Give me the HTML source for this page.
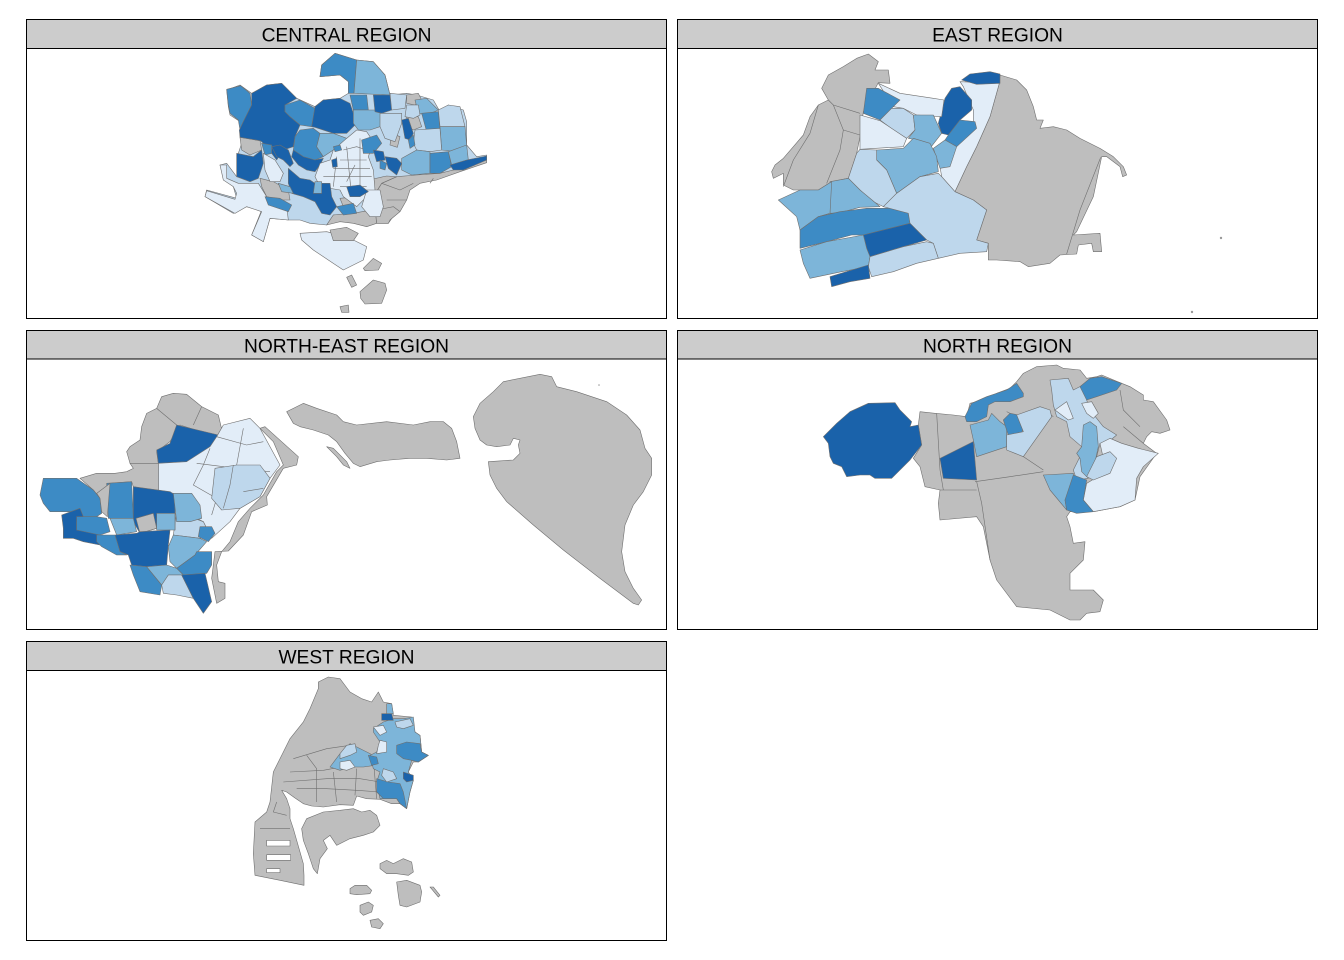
<!DOCTYPE html>
<html><head><meta charset="utf-8"><style>
html,body{margin:0;padding:0;background:#fff;}
svg{display:block;}
polygon,polyline{vector-effect:non-scaling-stroke;stroke-linejoin:round;}
.m polygon{stroke:#6f6f6f;stroke-width:0.6;}
.m polyline{fill:none;stroke:#6f6f6f;stroke-width:0.6;}
.D{fill:#1a62aa}.M{fill:#3d8bc5}.L{fill:#7db5d9}.P{fill:#bed7ec}.W{fill:#e2edf8}.G{fill:#bebebe}
.hd{fill:#cccccc;stroke:#000;stroke-width:1}
.bx{fill:none;stroke:#000;stroke-width:1}
text{font-family:"Liberation Sans",Arial,sans-serif;font-size:19.2px;fill:#000;text-anchor:middle;}
</style></head><body>
<svg width="1344" height="960" viewBox="0 0 1344 960" xmlns="http://www.w3.org/2000/svg">
<rect width="1344" height="960" fill="#fff"/>

<!-- CENTRAL -->
<g class="m" transform="translate(200,50) scale(0.33333)">
<polygon class="P" points="80,120 120,105 155,130 200,105 245,100 290,145 345,170 370,150 420,145 445,130 445,95 420,75 360,80 365,45 405,10 470,30 520,35 555,75 570,135 620,130 650,135 700,150 720,185 745,165 790,180 800,215 800,285 830,320 860,315 860,335 760,360 700,380 640,400 600,470 565,520 530,520 525,480 470,490 400,495 380,525 330,520 300,510 265,510 210,505 190,575 155,555 185,480 140,470 100,490 15,440 20,420 110,445 100,410 75,390 60,345 80,340 110,380 115,310 125,280 120,245 120,215 90,195 85,170"/>
<polygon class="W" points="60,345 80,345 80,385 115,400 175,400 200,440 260,470 265,510 210,505 190,575 155,555 185,485 140,470 105,490 15,440 20,422 105,448 110,430 100,410 70,390"/>
<polygon class="G" points="590,380 650,375 720,370 760,360 860,330 860,338 780,365 710,390 660,400 630,420 620,450 600,485 570,510 565,520 530,520 525,480 505,470 520,440 545,400"/>
<polygon class="G" points="505,390 560,378 590,380 545,400 520,440 500,440"/>
<polygon class="G" points="380,525 400,495 470,488 525,478 530,520 500,530 460,520 420,515"/>
<polyline points="545,400 600,420 640,400"/><polyline points="560,450 620,450"/><polyline points="530,480 580,470 600,485"/><polyline points="700,385 690,400"/>
<polygon class="G" points="575,250 600,260 592,292 570,285"/>
<polygon class="G" points="620,135 655,130 665,150 645,165 620,160"/>
<polygon class="G" points="620,200 655,200 665,230 640,240 620,230"/>
<polygon class="G" points="420,445 470,440 465,465 430,470"/>
<polygon class="G" points="180,385 220,395 265,420 270,450 240,450 200,440 185,410"/>
<polygon class="G" points="120,262 180,272 185,300 150,315 125,300"/>
<polygon class="M" points="360,80 365,45 405,10 470,30 462,130 445,130 445,95 420,75"/>
<polygon class="L" points="470,30 520,35 555,75 570,135 462,130"/>
<polygon class="M" points="80,118 122,107 150,130 155,165 130,215 120,240 115,210 90,190 85,165"/>
<polygon class="D" points="155,130 200,105 245,100 290,145 255,165 255,185 270,200 300,225 285,260 280,290 250,300 230,330 200,290 185,275 180,272 120,262 118,240 130,215 155,165"/>
<polygon class="M" points="255,165 300,150 345,175 335,230 300,225 270,200 255,185"/>
<polygon class="D" points="345,170 370,150 420,145 450,160 460,190 475,215 440,250 400,250 345,232 335,230"/>
<polygon class="M" points="185,280 215,285 215,310 195,315"/>
<polygon class="M" points="285,260 300,240 340,235 360,250 350,290 370,320 345,330 300,330 280,300"/>
<polygon class="D" points="215,290 240,285 265,300 280,340 270,350 250,330 230,320"/>
<polygon class="D" points="280,300 310,320 345,330 370,325 360,345 345,365 320,360 295,345 275,320"/>
<polygon class="L" points="360,250 400,250 440,265 430,290 400,300 370,320 350,290"/>
<polygon class="W" points="400,300 440,265 470,240 500,245 520,275 505,320 520,360 525,420 500,440 470,470 430,440 420,420 360,410 345,380 360,340 390,330"/>
<polyline points="420,330 500,330"/><polyline points="400,355 510,355"/><polyline points="370,380 515,380"/><polyline points="420,410 500,410"/><polyline points="440,290 455,440"/><polyline points="480,265 480,440"/><polyline points="410,320 400,410"/><polyline points="430,300 470,290 500,300"/><polyline points="465,345 440,395"/>
<polygon class="M" points="450,135 500,135 505,180 460,180"/>
<polygon class="L" points="460,180 540,180 545,220 540,230 510,240 475,240 460,220"/>
<polygon class="D" points="520,135 570,135 575,180 545,190 525,185"/>
<polygon class="P" points="540,190 605,190 605,220 585,275 555,265 540,230"/>
<polygon class="P" points="570,130 620,135 615,175 575,180"/>
<polygon class="L" points="645,150 680,145 715,180 680,195 655,190"/>
<polygon class="P" points="620,165 655,165 660,195 640,205 615,200"/>
<polygon class="M" points="665,190 715,185 720,240 680,245"/>
<polygon class="P" points="715,180 745,165 780,170 795,230 720,230"/>
<polygon class="L" points="720,230 795,230 800,285 770,305 725,300"/>
<polygon class="P" points="645,240 720,235 725,300 690,305 650,300 640,280"/>
<polygon class="D" points="605,210 625,205 640,250 630,270 615,265"/>
<polygon class="M" points="625,270 640,255 645,285 630,295"/>
<polygon class="L" points="605,325 650,300 690,305 690,370 635,375 605,360"/>
<polygon class="M" points="690,310 745,305 755,350 720,370 690,370"/>
<polygon class="L" points="745,305 800,285 805,330 755,345"/>
<polygon class="D" points="750,345 800,330 860,318 860,330 790,360 760,360"/>
<polygon class="M" points="485,270 530,255 545,280 520,310 490,310"/>
<polygon class="D" points="520,300 550,305 555,330 530,335"/>
<polygon class="D" points="555,320 590,325 605,340 590,375 565,355"/>
<polygon class="W" points="500,420 540,420 550,470 540,500 510,500 485,470"/>
<polygon class="M" points="540,330 560,340 555,360 540,355"/>
<polygon class="D" points="110,310 160,320 185,300 190,340 175,385 150,395 110,380"/>
<polygon class="W" points="190,310 225,330 250,370 240,395 210,395 195,360"/>
<polygon class="D" points="265,355 300,385 330,390 345,400 390,400 395,440 410,470 390,495 365,490 345,455 310,440 275,430 265,400"/>
<polygon class="L" points="345,395 365,395 365,430 340,430"/>
<polygon class="M" points="195,440 240,445 275,465 265,485 205,465"/>
<polygon class="L" points="235,400 270,410 280,430 245,425"/>
<polygon class="M" points="410,470 460,460 470,490 430,495"/>
<polygon class="D" points="440,410 480,405 505,425 480,440 450,440"/>
<polygon class="D" points="395,330 410,325 412,350 398,352"/>
<polygon class="M" points="400,290 420,285 425,300 405,305"/>
<polygon class="W" points="300,550 380,545 440,560 500,590 490,630 430,660 400,640 340,600 305,570"/>
<polygon class="G" points="390,540 440,532 475,550 460,572 400,572"/>
<polygon class="G" points="490,655 520,625 545,640 535,660 495,662"/>
<polygon class="G" points="440,682 455,675 470,705 455,712"/>
<polygon class="G" points="480,725 520,690 555,700 560,720 545,760 495,762 482,745"/>
<polygon class="G" points="420,770 445,765 447,787 425,787"/>
</g>

<!-- EAST -->
<g class="m" transform="translate(760,50) scale(0.33333)">
<polygon class="G" points="185,115 205,75 250,50 290,25 325,12 355,35 345,60 385,60 390,100 355,98 310,185 300,260 290,310 265,385 215,395 175,420 100,420 70,405 70,370 40,385 35,365 45,345 70,325 100,290 130,255 150,200 175,165 205,150"/>
<polyline points="205,150 220,165 300,190"/><polyline points="220,165 250,240 240,300 200,400"/><polyline points="175,165 150,250 100,330 70,410"/><polyline points="250,240 300,255"/>
<polygon class="G" points="720,75 770,90 800,120 820,170 830,210 850,210 840,235 880,230 920,240 960,265 1020,295 1060,320 1090,350 1100,375 1088,380 1080,350 1040,320 1025,320 1000,440 950,545 940,555 1020,550 1025,605 1000,605 995,580 955,585 950,612 900,615 870,640 805,650 780,635 710,630 685,630 685,580 650,570 680,480 640,450 585,425 620,350 650,290 690,200 718,100"/>
<polyline points="1022,322 960,480 920,612"/>
<polygon class="W" points="600,95 718,100 690,200 650,290 620,350 585,425 545,380 540,350 575,290 590,270 640,220 640,180 610,110"/>
<polygon class="D" points="605,90 630,72 690,65 720,72 720,100 650,103"/>
<polygon class="D" points="535,220 555,145 575,115 600,110 635,150 635,180 600,210 565,255 545,250"/>
<polygon class="M" points="565,255 600,210 645,215 650,235 590,290 555,270"/>
<polygon class="L" points="520,295 555,270 590,290 570,350 540,355"/>
<polygon class="W" points="355,100 420,130 520,145 552,150 545,200 470,195 430,175 400,170"/>
<polygon class="M" points="320,115 355,115 420,150 395,175 360,210 310,190"/>
<polygon class="P" points="360,210 395,175 430,175 460,195 465,240 440,265 400,240"/>
<polygon class="W" points="300,195 360,212 440,265 430,290 300,298"/>
<polygon class="L" points="460,195 520,195 545,250 510,295 470,270 445,265 465,240"/>
<polygon class="L" points="350,300 430,295 460,265 510,280 530,320 535,365 480,380 410,430 380,360 350,330"/>
<polygon class="P" points="265,385 290,310 300,298 350,300 350,330 380,360 410,430 370,470 330,450 300,420"/>
<polygon class="L" points="210,395 265,385 300,420 360,470 300,472 240,488 210,490"/>
<polygon class="L" points="55,450 120,420 175,420 215,395 210,490 175,500 120,540 110,500"/>
<polygon class="M" points="120,540 175,500 240,485 320,475 400,475 445,490 450,520 310,555 275,555 200,575 120,595"/>
<polygon class="P" points="410,430 480,380 535,370 545,380 585,425 640,450 680,480 650,570 685,580 680,605 600,610 535,625 520,580 500,570 450,520 445,490 370,470"/>
<polygon class="D" points="310,555 450,520 500,570 430,590 330,620 320,595"/>
<polygon class="L" points="120,600 200,575 310,555 320,595 330,620 325,650 245,665 150,685 130,640"/>
<polygon class="P" points="330,620 430,590 500,575 520,580 535,625 470,640 400,665 335,680 325,650"/>
<polygon class="D" points="210,680 325,645 330,685 270,695 215,710"/>
</g>
<circle cx="1221" cy="238" r="1.2" fill="#999"/>
<circle cx="1192" cy="312" r="1.2" fill="#999"/>

<!-- NORTH-EAST -->
<g class="m" transform="translate(30,365) scale(0.33333)">
<polygon class="G" points="380,130 395,95 430,85 470,88 515,125 565,150 578,205 560,215 450,180 420,230 380,260 385,295 300,295 290,260 300,245 330,225 335,185 350,145"/>
<polyline points="380,130 440,180"/><polyline points="515,125 490,180"/>
<polygon class="D" points="440,180 565,210 540,245 500,275 470,290 385,295 380,255 420,235"/>
<polygon class="W" points="560,215 580,180 660,160 690,190 750,300 720,340 690,395 630,430 600,470 545,520 520,470 460,440 430,385 385,380 385,295 470,290 540,245"/>
<polyline points="560,215 650,240 700,230"/><polyline points="500,295 620,310 720,320"/><polyline points="540,250 520,300 490,360 560,400 545,450"/><polyline points="640,190 620,300 590,420"/>
<polygon class="P" points="555,310 620,300 690,300 720,340 690,395 630,430 575,435 545,400"/>
<polyline points="610,300 600,360 580,430"/><polyline points="640,380 700,370"/>
<polygon class="P" points="440,440 520,470 540,510 510,520 430,510"/>
<polygon class="G" points="690,190 705,185 805,275 800,300 760,310 710,395 712,420 665,440 640,510 595,558 555,560 545,640 560,715 585,700 585,655 565,650 560,600 575,560 600,530 625,470 660,430 700,390 740,320 760,300 730,230"/>
<polygon class="G" points="150,340 200,325 255,325 290,320 310,310 300,295 385,295 385,380 310,365 305,350 240,355 230,385 210,400 190,375"/>
<polygon class="M" points="40,340 140,340 190,375 210,400 215,445 200,455 160,460 140,440 95,440 60,440 40,415 30,390"/>
<polygon class="D" points="95,450 150,430 160,455 140,470 140,495 200,500 220,520 210,540 160,530 130,520 100,520 100,490"/>
<polygon class="M" points="140,455 200,455 230,460 240,500 210,510 140,495"/>
<polygon class="M" points="230,355 305,350 310,460 235,460"/>
<polygon class="G" points="200,385 240,355 232,455 215,440 210,400"/>
<polygon class="D" points="310,365 420,380 435,390 435,495 380,490 330,505 310,470 310,445"/>
<polygon class="L" points="240,460 310,460 320,500 260,510"/>
<polygon class="G" points="318,460 370,445 380,490 330,505"/>
<polygon class="L" points="380,445 435,445 435,495 380,495"/>
<polygon class="L" points="430,385 485,385 510,420 515,460 480,470 440,470"/>
<polygon class="D" points="255,510 320,505 330,500 420,495 415,540 410,600 350,605 305,600 295,570 270,560"/>
<polygon class="M" points="200,510 255,510 270,560 290,570 260,570 215,545 200,530"/>
<polygon class="L" points="430,510 510,520 530,530 495,570 440,610 420,590 415,545"/>
<polygon class="M" points="500,560 545,560 545,600 530,625 460,630 440,610 495,570"/>
<polygon class="M" points="300,600 350,605 395,660 390,690 330,680 310,630"/>
<polygon class="L" points="350,605 410,600 440,610 460,630 415,630 395,660"/>
<polygon class="P" points="395,660 415,630 455,630 490,700 440,690 400,685"/>
<polygon class="D" points="455,630 525,625 545,710 520,745 490,700"/>
<polygon class="M" points="510,485 545,485 555,505 535,530 505,515"/>
</g>
<g class="m" transform="translate(280,365) scale(0.33333)">
<polygon class="G" points="20,140 40,130 70,115 110,130 170,150 190,170 230,180 320,170 400,180 450,170 490,170 515,190 530,230 540,280 500,285 440,280 390,280 330,285 290,290 240,305 220,295 195,265 170,230 145,210 100,195 60,185 40,175"/>
<polygon class="G" points="140,245 160,250 200,290 210,310 190,300 170,275"/>
<polygon class="G" points="580,155 600,115 640,80 670,50 780,28 815,35 830,65 890,80 980,110 1040,150 1080,195 1095,250 1115,280 1115,330 1090,380 1060,420 1035,480 1025,560 1035,620 1060,670 1085,705 1075,720 1060,715 960,640 850,555 760,480 680,410 650,370 630,330 625,290 700,285 720,265 715,240 720,225 700,220 690,240 650,245 620,240 600,225 585,190"/>
</g>
<circle cx="599" cy="385" r="0.8" fill="#999"/>

<!-- NORTH -->
<g class="m" transform="translate(810,360) scale(0.33333)">
<polygon class="G" points="325,195 330,155 375,160 430,165 470,170 480,130 520,120 560,100 600,85 620,65 640,40 680,20 740,15 760,25 810,30 830,55 860,50 875,45 935,70 960,80 1000,105 1000,120 1030,125 1070,180 1080,210 1050,220 1025,215 1010,230 1000,250 1040,280 990,350 975,420 930,440 850,455 780,455 770,470 780,500 790,550 825,545 820,600 780,640 780,690 850,690 880,720 870,755 830,760 810,780 780,780 720,750 620,740 560,660 540,600 520,500 500,470 390,480 385,430 390,390 345,380 330,320 310,295 335,255"/>
<polyline points="495,365 600,350 700,335"/><polyline points="500,365 515,430 540,600"/><polyline points="390,390 500,390"/><polyline points="380,160 390,330 400,390"/><polyline points="640,290 700,330"/><polyline points="590,155 640,180 700,150 730,170"/><polyline points="930,90 940,150 990,200"/><polyline points="1000,250 940,200"/>
<polygon class="D" points="40,230 80,190 120,155 175,130 255,128 270,150 305,185 300,200 325,195 335,255 300,300 265,335 245,355 195,355 180,345 150,345 110,350 95,320 70,310 60,290 55,250"/>
<polygon class="M" points="465,170 485,130 530,110 590,90 620,70 640,100 640,110 600,125 555,125 535,135 530,170 500,185 470,185"/>
<polygon class="L" points="480,195 535,180 545,160 570,185 590,200 590,225 590,260 500,290 490,240"/>
<polygon class="M" points="580,180 600,160 625,165 640,200 635,220 595,225"/>
<polygon class="P" points="620,165 690,140 720,150 725,170 640,290 590,270 590,225 640,215"/>
<polygon class="D" points="390,295 490,245 500,360 400,355"/>
<polygon class="P" points="720,60 775,55 790,90 810,80 855,80 830,120 840,150 880,200 920,225 890,250 870,250 860,290 840,300 815,330 835,355 800,360 790,330 810,290 815,260 780,230 770,185 740,170 730,135 725,90"/>
<polygon class="W" points="735,150 770,125 790,175 775,180"/>
<polygon class="W" points="815,130 845,125 865,160 850,175 830,160"/>
<polygon class="M" points="810,80 840,55 875,50 935,70 920,90 860,110 830,120"/>
<polygon class="L" points="820,195 840,185 860,200 865,260 850,330 830,350 815,335 810,295 800,280 815,260"/>
<polygon class="W" points="870,250 900,235 935,250 985,265 1045,280 1000,320 980,355 975,420 930,440 850,455 820,420 830,370 880,340 905,310 880,295"/>
<polygon class="P" points="860,290 900,275 920,295 900,340 850,360 830,350"/>
<polygon class="L" points="700,345 790,340 790,375 765,420 770,450 745,420 720,390"/>
<polygon class="M" points="790,345 830,360 820,420 850,455 800,460 770,450 765,420"/>
</g>

<!-- WEST -->
<g class="m" transform="translate(240,672) scale(0.33333)">
<polygon class="G" points="130,240 150,200 190,150 210,110 235,50 235,30 265,15 300,20 330,60 365,80 395,90 415,60 430,90 455,95 460,130 515,135 525,180 540,190 545,240 565,250 535,270 520,270 505,300 520,325 510,360 500,410 480,395 455,395 420,382 380,380 350,372 340,400 300,398 250,405 215,402 190,395 165,378 140,360 125,355 140,380 150,410 150,440 160,470 170,505 180,540 190,575 192,610 192,640 120,625 45,610 40,545 45,450 80,420 90,390 100,300"/>
<polygon fill="#fff" points="80,505 150,505 150,522 80,522"/>
<polygon fill="#fff" points="80,548 152,548 152,565 80,565"/>
<polygon fill="#fff" points="80,590 120,590 120,602 80,602"/>
<polyline points="150,300 250,295 330,280 400,270"/><polyline points="130,330 260,320 360,320 420,330"/><polyline points="170,350 260,350 350,355 420,360"/><polyline points="200,250 230,290 230,390"/><polyline points="280,300 290,390"/><polyline points="350,290 345,370"/><polyline points="400,260 410,380"/><polyline points="110,390 100,420 140,430"/><polyline points="60,470 150,470"/><polyline points="160,260 260,230 330,220"/>
<polygon class="G" points="185,470 200,440 250,420 300,415 340,410 365,420 390,415 410,430 420,460 400,480 370,490 330,500 290,520 270,490 250,505 262,530 240,560 232,605 220,590 205,545 190,505"/>
<polygon class="L" points="270,285 300,245 330,215 360,230 390,245 410,260 405,280 370,285 330,285 300,295"/>
<polygon class="W" points="300,270 330,265 345,285 320,295 300,290"/>
<polygon class="P" points="320,220 345,215 350,240 330,250 300,260 300,245"/>
<polygon class="L" points="400,170 430,150 460,140 490,140 520,135 525,180 540,190 545,240 565,250 535,270 515,265 505,300 520,325 510,360 500,410 480,395 470,380 420,380 410,330 420,300 400,290 390,250 410,240 420,210 400,180"/>
<polygon class="D" points="425,125 455,125 460,145 425,145"/>
<polygon class="L" points="440,95 455,95 460,125 440,125"/>
<polygon class="W" points="400,165 430,160 440,180 420,190"/>
<polygon class="W" points="420,205 440,210 440,240 410,245 415,220"/>
<polygon class="P" points="465,150 510,140 520,160 490,170 470,165"/>
<polygon class="M" points="470,220 500,210 540,215 545,240 565,250 535,270 515,265 490,260 470,245"/>
<polygon class="M" points="410,320 445,330 480,335 490,360 500,410 480,395 470,380 430,380 410,360"/>
<polygon class="D" points="490,300 520,310 520,325 500,330 490,320"/>
<polygon class="P" points="430,290 460,300 470,320 440,330 425,310"/>
<polygon class="M" points="385,250 410,255 415,275 395,280"/>
<polygon class="G" points="420,575 440,565 460,575 490,560 515,570 520,600 505,610 470,605 440,605 420,590"/>
<polygon class="G" points="470,630 500,625 540,640 545,660 540,690 500,705 480,700 475,670"/>
<polygon class="G" points="330,650 345,640 380,640 395,655 390,665 350,668 330,665"/>
<polygon class="G" points="360,700 385,690 400,700 395,720 370,730 360,720"/>
<polygon class="G" points="390,745 415,740 430,755 420,770 395,765"/>
<polygon class="G" points="570,645 580,645 600,670 595,675"/>
</g>

<!-- panel frames -->
<rect class="hd" x="26.5" y="19.5" width="640" height="29"/>
<rect class="bx" x="26.5" y="19.5" width="640" height="299"/>
<text x="346.5" y="41.5">CENTRAL REGION</text>
<rect class="hd" x="677.5" y="19.5" width="640" height="29"/>
<rect class="bx" x="677.5" y="19.5" width="640" height="299"/>
<text x="997.5" y="41.5">EAST REGION</text>

<rect class="hd" x="26.5" y="330.5" width="640" height="28.5"/>
<rect class="bx" x="26.5" y="330.5" width="640" height="299"/>
<text x="346.5" y="352.5">NORTH-EAST REGION</text>
<rect class="hd" x="677.5" y="330.5" width="640" height="28.5"/>
<rect class="bx" x="677.5" y="330.5" width="640" height="299"/>
<text x="997.5" y="352.5">NORTH REGION</text>

<rect class="hd" x="26.5" y="641.5" width="640" height="29"/>
<rect class="bx" x="26.5" y="641.5" width="640" height="299"/>
<text x="346.5" y="663.5">WEST REGION</text>
</svg>
</body></html>
